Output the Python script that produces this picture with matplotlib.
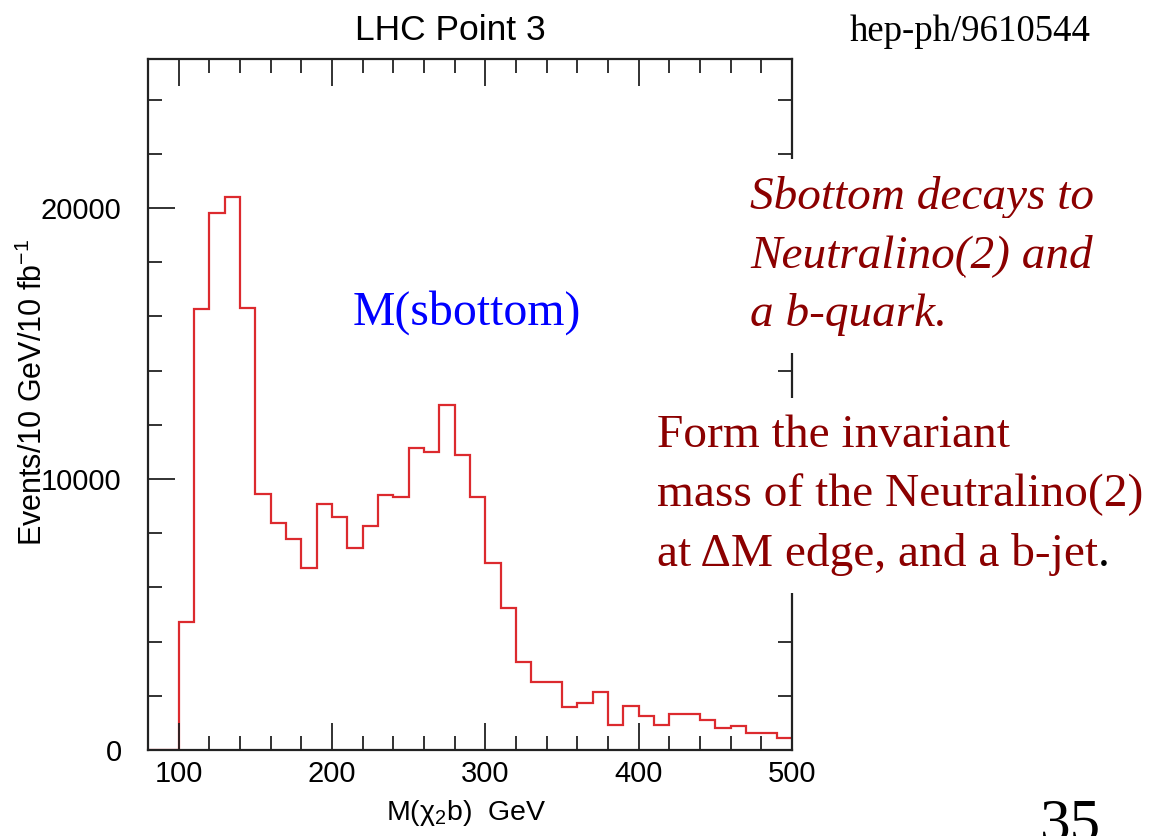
import numpy as np
import matplotlib
matplotlib.use("Agg")
import matplotlib.pyplot as plt
from matplotlib.ticker import MultipleLocator

# ---- data ----
bin_edges = np.arange(80, 510, 10)
events = [0, 0,
          4730, 16260, 19800, 20400, 16320, 9430, 8390, 7780, 6710, 9080,
          8600, 7440, 8270, 9410, 9330, 11150, 11000, 12720, 10890, 9340,
          6910, 5225, 3260, 2500, 2500, 1580, 1740, 2140, 940, 1630,
          1255, 940, 1330, 1330, 1090, 812, 870, 620, 620, 430]

title = "LHC Point 3"
ref_label = "hep-ph/9610544"
peak_label = "M(sbottom)"
italic_lines = ["Sbottom decays to", "Neutralino(2) and", "a b-quark."]
roman_lines = ["Form the invariant", "mass of the Neutralino(2)", "at \u0394M edge, and a b-jet"]
x_label = "M(\u03c7$_2$b)  GeV"
y_label = "Events/10 GeV/10 fb$^{-1}$"
page_no = "35"

plt.rcParams['font.family'] = ['Liberation Sans', 'DejaVu Sans']
plt.rcParams['mathtext.fontset'] = 'custom'
plt.rcParams['mathtext.rm'] = 'Liberation Sans'
plt.rcParams['mathtext.it'] = 'Liberation Sans:italic'

W, H = 1160, 836
fig = plt.figure(figsize=(W / 100, H / 100), dpi=100)

def fx(px):
    return px / W

def fy(py):
    return 1 - py / H

ax = fig.add_axes([fx(148), fy(750), fx(792) - fx(148), fy(59) - fy(750)])
ax.stairs(events, bin_edges, baseline=None, color='#dc2a2e', linewidth=1.6)
ax.set_xlim(80, 500)
ax.set_ylim(0, 25500)

ax.xaxis.set_major_locator(MultipleLocator(100))
ax.xaxis.set_minor_locator(MultipleLocator(20))
ax.yaxis.set_major_locator(MultipleLocator(10000))
ax.yaxis.set_minor_locator(MultipleLocator(2000))
ax.tick_params(which='both', direction='in', top=True, right=True,
               width=1.3, color='#222222', labelsize=21)
ax.tick_params(which='major', length=19.5)
ax.tick_params(which='minor', length=10)
ax.tick_params(axis='y', which='major', pad=19)
ax.tick_params(axis='x', which='major', pad=7)
for s in ax.spines.values():
    s.set_linewidth(1.6)
    s.set_color('#222222')

fig.text(fx(450), fy(30), title, ha='center', va='center', fontsize=25.5)
fig.text(fx(33), fy(392), y_label, rotation=90, ha='center', va='center', fontsize=22)
fig.text(fx(466), fy(813), x_label, ha='center', va='center', fontsize=20.5)

fig.text(fx(850), fy(41), ref_label, ha='left', va='baseline', fontsize=26.5,
         family='Liberation Serif')

fig.text(fx(353), fy(325), peak_label, ha='left', va='baseline', fontsize=34.4,
         family='Liberation Serif', color='#0000ff')

dark = '#8b0000'
bb = dict(facecolor='white', edgecolor='none', boxstyle='square,pad=0.35')
for i, line in enumerate(italic_lines):
    fig.text(fx(750), fy(209 + 58.5 * i), line, ha='left', va='baseline', fontsize=34,
             family='Liberation Serif', style='italic', color=dark, bbox=bb)
last = None
for i, line in enumerate(roman_lines):
    last = fig.text(fx(657), fy(447 + 59.5 * i), line, ha='left', va='baseline', fontsize=34.1,
                    family='Liberation Serif', color=dark, bbox=bb)
fig.canvas.draw()
bbox = last.get_window_extent(renderer=fig.canvas.get_renderer())
fig.text(bbox.x1 / W, fy(447 + 59.5 * 2), '.', ha='left', va='baseline', fontsize=34.1,
         family='Liberation Serif', color='black')

fig.text(fx(1040), fy(798), page_no, ha='left', va='top', fontsize=44,
         family='Liberation Serif', color='black')

fig.savefig('out.png', dpi=100)
